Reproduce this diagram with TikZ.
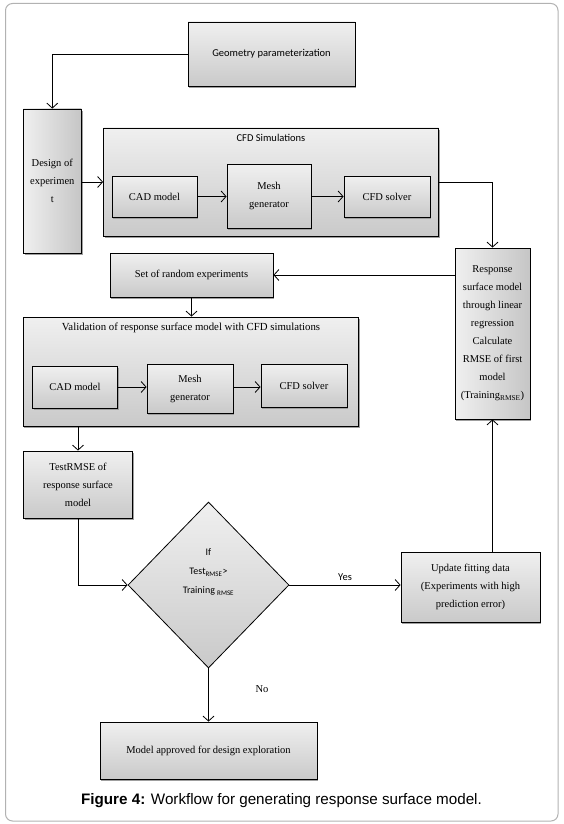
\documentclass[tikz,border=0pt]{standalone}
\usepackage{fontspec}
\setmainfont{Liberation Serif}
\newfontfamily\calibf{Carlito}
\newfontfamily\arialf{Liberation Sans}
\usetikzlibrary{arrows.meta,shapes.geometric,shadows,calc}
\tikzset{
  boxbase/.style={draw=black, line width=0.8pt, align=center, inner sep=2pt,
    font=\fontsize{10.5}{18}\selectfont,
    drop shadow={shadow xshift=1.2pt, shadow yshift=-2pt, fill=gray!75, opacity=1}},
  vbox/.style={boxbase, top color=gray!12, bottom color=gray!42},
  hbox/.style={boxbase, left color=gray!12, right color=gray!45},
  ttl/.style={font=\calibf\fontsize{10.5}{12}\selectfont, inner sep=1pt},
  conn/.style={line width=0.8pt, -{Straight Barb[length=5pt,width=11pt,line width=0.8pt]}},
  lbl/.style={inner sep=1pt},
}
\begin{document}
\begin{tikzpicture}[x=1pt,y=-1pt]
\useasboundingbox (0,0) rectangle (563,824);
\draw[gray!60, line width=1pt, rounded corners=7pt] (5.5,3.5) rectangle (558,821);

% nodes
\node[vbox, minimum width=167pt, minimum height=64pt, font=\calibf\fontsize{10.5}{12}\selectfont] (geom) at (271.5,54) {Geometry parameterization};
\node[hbox, minimum width=58pt, minimum height=144pt] (design) at (52.3,181) {Design of\\experimen\\t};
\node[vbox, minimum width=335pt, minimum height=108pt] (cfd) at (271,182) {};
\node[ttl] (cfdt) at (271,138) {CFD Simulations};
\node[vbox, minimum width=85pt, minimum height=41pt] (cad1) at (154.5,196.5) {CAD model};
\node[vbox, minimum width=84pt, minimum height=64pt] (mesh1) at (269,196) {Mesh\\generator};
\node[vbox, minimum width=86pt, minimum height=41pt] (solv1) at (387,196.5) {CFD solver};

\node[hbox, minimum width=75pt, minimum height=171pt] (resp) at (492.5,333.5) {Response\\surface model\\through linear\\regression\\Calculate\\RMSE of first\\model\\(Training\textsubscript{RMSE})};
\node[vbox, minimum width=163pt, minimum height=44pt] (set) at (191.5,275) {Set of random experiments};

\node[vbox, minimum width=335.5pt, minimum height=109pt] (val) at (191,371.5) {};
\node[lbl, font=\fontsize{10.8}{12}\selectfont] (valt) at (191,328) {Validation of response surface model with CFD simulations};
\node[vbox, minimum width=85pt, minimum height=42pt] (cad2) at (75,387) {CAD model};
\node[vbox, minimum width=86pt, minimum height=49pt] (mesh2) at (190,388.5) {Mesh\\generator};
\node[vbox, minimum width=86pt, minimum height=43pt] (solv2) at (304,385.5) {CFD solver};

\node[vbox, minimum width=109pt, minimum height=67pt] (test) at (78,484.5) {TestRMSE of\\response surface\\model};

\node[diamond, draw=black, line width=0.8pt, top color=gray!12, bottom color=gray!42,
      minimum width=161pt, minimum height=166pt, inner sep=0pt, aspect=1] (dec) at (208.5,585) {};
\node[lbl, align=center, font=\calibf\fontsize{10}{19}\selectfont] (dect) at (208.5,572) {If\\Test\textsubscript{RMSE}>\\Training \textsubscript{RMSE}};

\node[vbox, minimum width=139pt, minimum height=70pt] (upd) at (470.5,587) {Update fitting data\\(Experiments with high\\prediction error)};
\node[vbox, minimum width=217pt, minimum height=57pt] (appr) at (208.5,750.5) {Model approved for design exploration};

% connectors
\draw[conn] (geom.west) -| (design.north);
\draw[conn] (design.east |- cfd.west) -- (cfd.west);
\draw[conn] (cad1.east) -- (cad1.east -| mesh1.west);
\draw[conn] (cad1.east -| mesh1.east) -- (solv1.west);
\draw[conn] (cfd.east) -| (resp.north);
\draw[conn] (set.east -| resp.west) -- (set.east);
\draw[conn] (set.south) -- (val.north -| set.south);
\draw[conn] (cad2.east) -- (cad2.east -| mesh2.west);
\draw[conn] (cad2.east -| mesh2.east) -- (cad2.east -| solv2.west);
\draw[conn] (test.north |- val.south) -- (test.north);
\draw[conn] (test.south) |- (dec.west);
\draw[conn] (dec.east) -- (upd.west |- dec.east) node[lbl, pos=0.5, above=3pt, font=\calibf\fontsize{10.5}{12}\selectfont] (yes) {Yes};
\draw[conn] (resp.south |- upd.north) -- (resp.south);
\draw[conn] (dec.south) -- (appr.north -| dec.south);
\node[lbl, font=\fontsize{10.5}{12}\selectfont] (no) at (262,689) {No};

\node[lbl, font=\arialf\fontsize{15.2}{18}\selectfont] (cap) at (281.5,801) {\textbf{Figure 4:} Workflow for generating response surface model.};
\end{tikzpicture}
\end{document}
